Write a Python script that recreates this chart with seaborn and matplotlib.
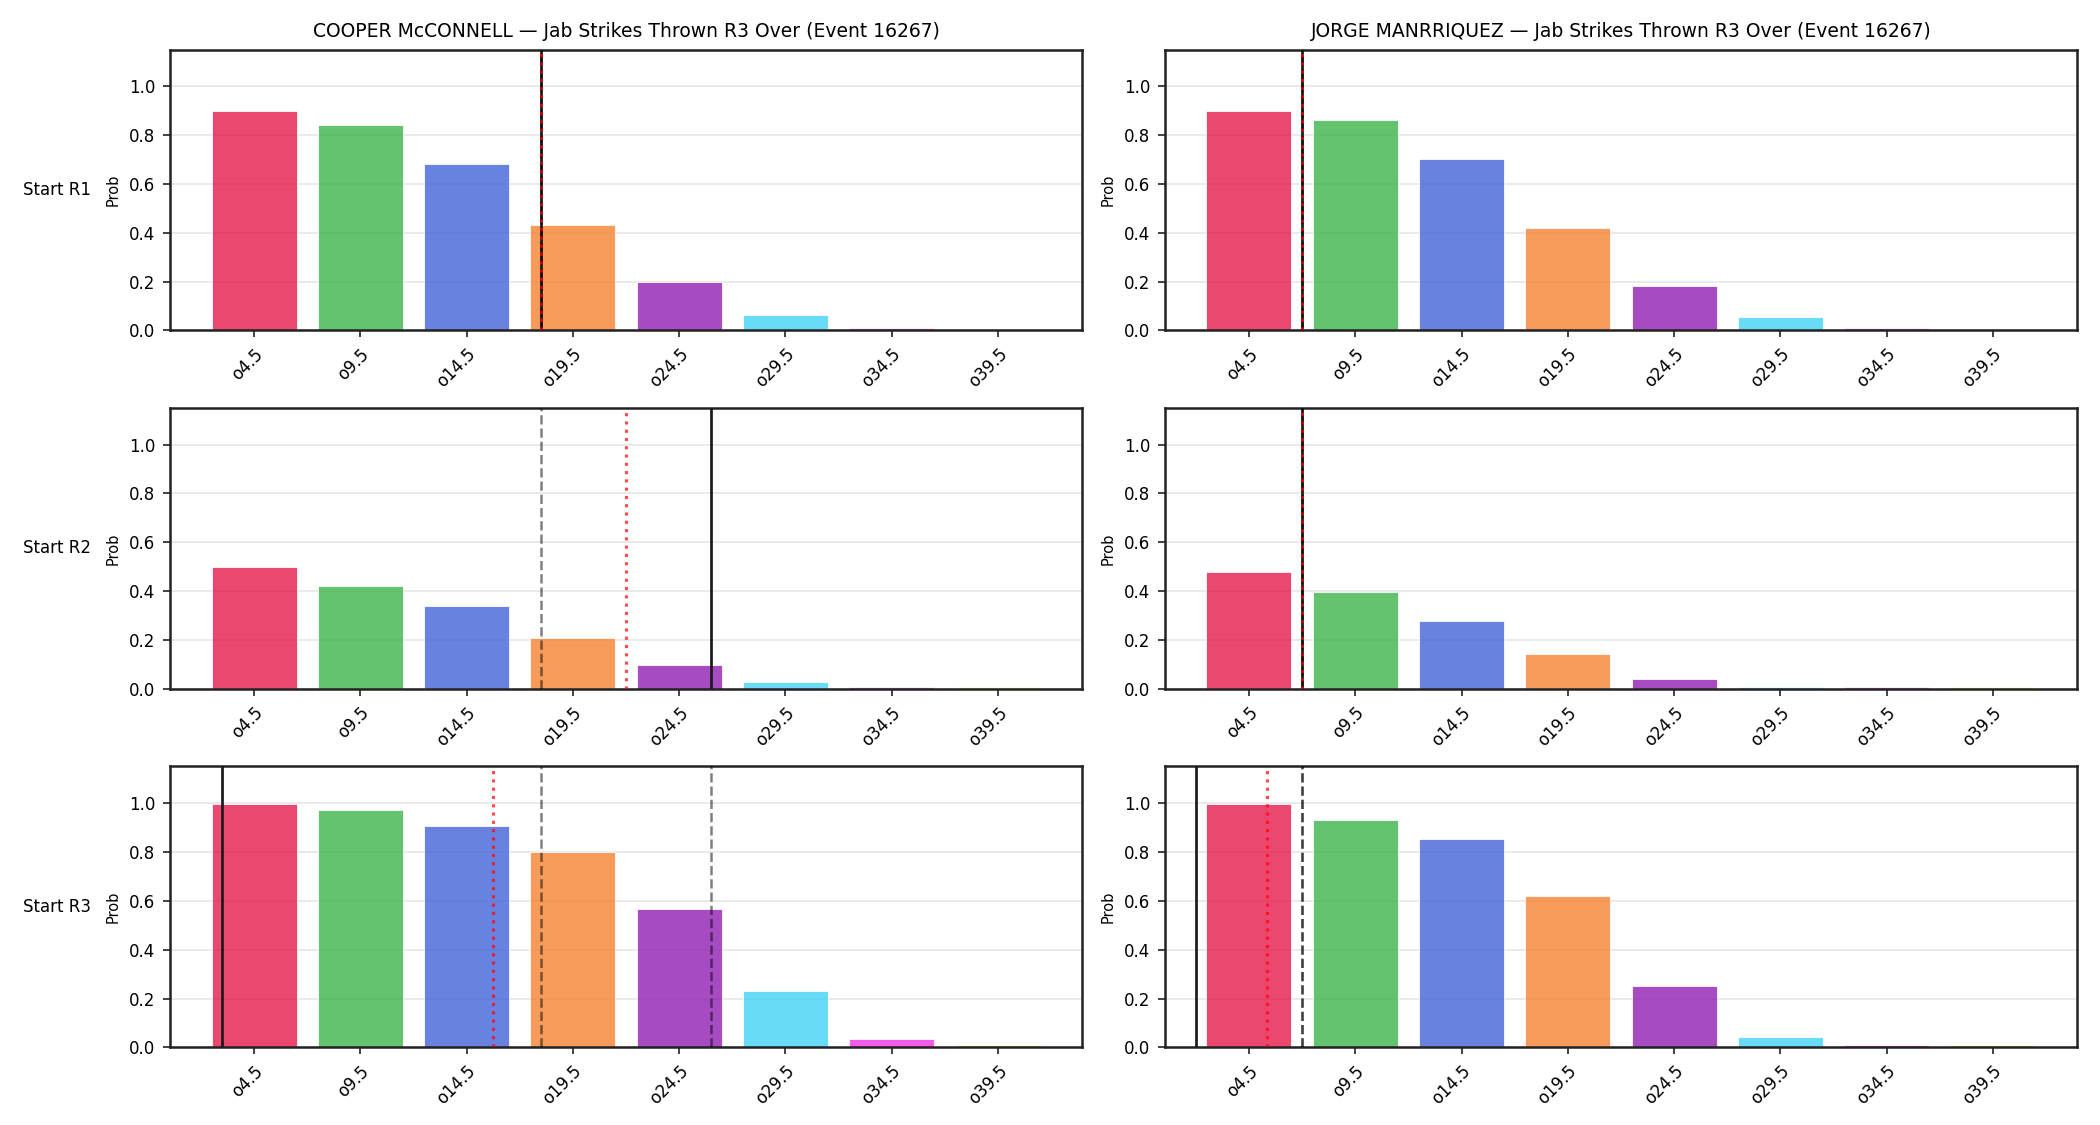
import numpy as np
import pandas as pd
import matplotlib
matplotlib.use("Agg")
import matplotlib.pyplot as plt
import seaborn as sns

sns.set_style("ticks")
plt.rcParams['font.family'] = ['DejaVu Sans']
plt.rcParams['text.color'] = 'black'
plt.rcParams['axes.labelcolor'] = 'black'
plt.rcParams['xtick.color'] = '#222222'
plt.rcParams['ytick.color'] = '#222222'
plt.rcParams['xtick.labelcolor'] = 'black'
plt.rcParams['ytick.labelcolor'] = 'black'

#=======================
# data
lines_lbl = ['o4.5', 'o9.5', 'o14.5', 'o19.5', 'o24.5', 'o29.5', 'o34.5', 'o39.5']
lines_num = [4.5, 9.5, 14.5, 19.5, 24.5, 29.5, 34.5, 39.5]
rows = ['Start R1', 'Start R2', 'Start R3']
fighters = ['COOPER McCONNELL', 'JORGE MANRRIQUEZ']
event_id = 16267

cooper_r1 = [0.90, 0.84, 0.68, 0.43, 0.20, 0.065, 0.012, 0.003]
cooper_r2 = [0.50, 0.42, 0.34, 0.21, 0.098, 0.027, 0.009, 0.008]
cooper_r3 = [0.997, 0.97, 0.905, 0.80, 0.567, 0.232, 0.035, 0.009]
jorge_r1 = [0.90, 0.86, 0.70, 0.42, 0.18, 0.053, 0.010, 0.003]
jorge_r2 = [0.48, 0.395, 0.277, 0.143, 0.040, 0.008, 0.008, 0.008]
jorge_r3 = [0.997, 0.93, 0.853, 0.62, 0.25, 0.043, 0.009, 0.009]

# marker lines, in strikes
cooper_solid = [18, 26, 3]
cooper_dotted = [18, 22, 15.75]
cooper_dashed = [[18], [18], [18, 26]]
jorge_solid = [7, 7, 2]
jorge_dotted = [7, 7, 5.35]
jorge_dashed = [[7], [7], [7, 7]]

palette = ['#e6194b', '#3cb44b', '#4363d8', '#f58231',
           '#911eb4', '#42d4f4', '#f032e6', '#bfef45']
#========================

probs = {fighters[0]: [cooper_r1, cooper_r2, cooper_r3],
         fighters[1]: [jorge_r1, jorge_r2, jorge_r3]}
solid = {fighters[0]: cooper_solid, fighters[1]: jorge_solid}
dotted = {fighters[0]: cooper_dotted, fighters[1]: jorge_dotted}
dashed = {fighters[0]: cooper_dashed, fighters[1]: jorge_dashed}

step = lines_num[1] - lines_num[0]


def to_pos(v):
    # strike value -> categorical bar position
    return (v - lines_num[0]) / step


fig, axes = plt.subplots(3, 2, figsize=(14, 7.5), dpi=150)
plt.subplots_adjust(left=0.081, right=0.989, top=0.956, bottom=0.069,
                    wspace=0.091, hspace=0.276)

for c, name in enumerate(fighters):
    for r in range(3):
        ax = axes[r, c]
        df = pd.DataFrame({'line': lines_lbl, 'prob': probs[name][r]})
        sns.barplot(data=df, x='line', y='prob', hue='line', palette=palette,
                    saturation=1, alpha=0.8, edgecolor='white', linewidth=0.5,
                    legend=False, ax=ax, width=0.8)
        ax.set_xlim(-0.79, 7.79)
        ax.set_ylim(0, 1.15)
        ax.set_yticks([0, 0.2, 0.4, 0.6, 0.8, 1.0])
        ax.yaxis.grid(True, color='#e6e6e6', lw=0.8)
        ax.set_axisbelow(True)
        ax.set_xlabel('')
        ax.set_ylabel('Prob', fontsize=7)
        ax.tick_params(labelsize=8)
        plt.setp(ax.get_xticklabels(), rotation=45, ha='right', rotation_mode='anchor')
        for sp in ax.spines.values():
            sp.set_color('#222222')
            sp.set_linewidth(1.2)

        ax.axvline(to_pos(solid[name][r]), color='#1a1a1a', lw=1.3, zorder=3)
        for d in dashed[name][r]:
            ax.axvline(to_pos(d), color='k', alpha=0.5, ls='--', lw=1.2, zorder=3)
        ax.axvline(to_pos(dotted[name][r]), color='red', alpha=0.7, ls=':', lw=1.5, zorder=4)

        if r == 0:
            ax.set_title(f'{name} — Jab Strikes Thrown R3 Over (Event {event_id})',
                         fontsize=9)
        if c == 0:
            bb = ax.get_position()
            fig.text(0.011, (bb.y0 + bb.y1) / 2, rows[r], fontsize=8,
                     ha='left', va='center')

plt.savefig('out.png', dpi=150)
